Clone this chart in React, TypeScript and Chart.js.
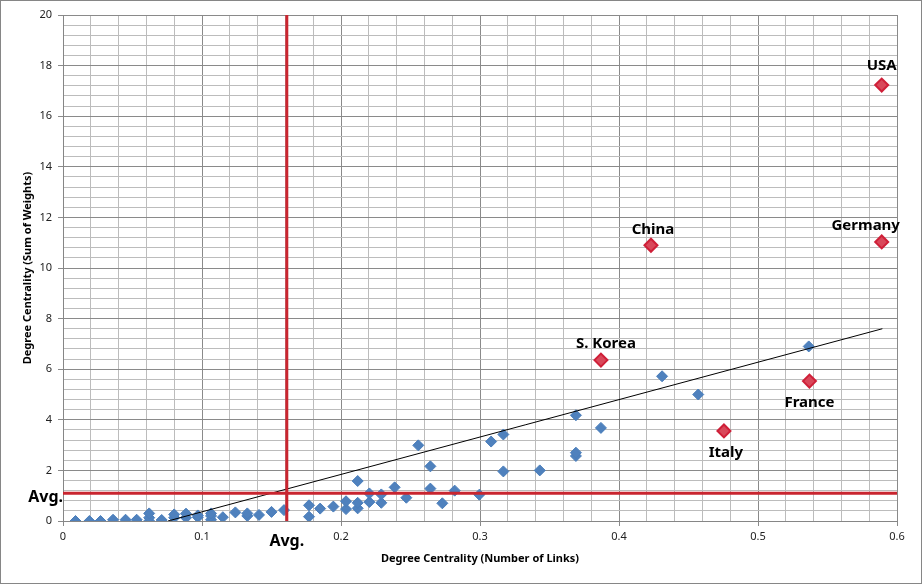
import React, { useEffect, useRef } from "react";
import { Chart, registerables } from "chart.js";

Chart.register(...registerables);

// ---- data ----
const blueX = [
  0.009, 0.019, 0.027, 0.036, 0.045, 0.053,
  0.062, 0.062, 0.062, 0.071, 0.080, 0.080,
  0.0885, 0.0885, 0.097, 0.097, 0.1065, 0.1065, 0.1065,
  0.115, 0.124, 0.1326, 0.1326, 0.141, 0.150, 0.159,
  0.177, 0.177, 0.185, 0.1945, 0.2036, 0.2036,
  0.212, 0.212, 0.212, 0.2204, 0.2204, 0.229, 0.229,
  0.2386, 0.247, 0.2556, 0.2643, 0.2643, 0.2729, 0.2818, 0.2995,
  0.308, 0.3168, 0.3168, 0.343, 0.369, 0.369, 0.369, 0.387,
  0.431, 0.457, 0.5365,
];
const blueY = [
  0, 0, 0, 0.05, 0.05, 0.05,
  0.0, 0.13, 0.3, 0.04, 0.13, 0.26,
  0.13, 0.29, 0.15, 0.22, 0.05, 0.2, 0.3,
  0.15, 0.34, 0.2, 0.3, 0.24, 0.36, 0.43,
  0.17, 0.62, 0.49, 0.57, 0.47, 0.78,
  0.5, 0.72, 1.58, 0.75, 1.09, 0.72, 1.05,
  1.33, 0.92, 2.99, 1.28, 2.16, 0.7, 1.2, 1.04,
  3.14, 1.96, 3.42, 2.0, 2.57, 2.7, 4.18, 3.68,
  5.72, 5.0, 6.9,
];

const countries = ["USA", "Germany", "China", "S. Korea", "France", "Italy"];
const countryX = [0.589, 0.589, 0.423, 0.387, 0.537, 0.4755];
const countryY = [17.23, 11.03, 10.9, 6.36, 5.53, 3.56];

const avgX = 0.161;
const avgY = 1.1;
const trendX = [0.0755, 0.5895];
const trendY = [0, 7.6];

const xTicks = ["0", "0.1", "0.2", "0.3", "0.4", "0.5", "0.6"];
const yTicks = ["0", "2", "4", "6", "8", "10", "12", "14", "16", "18", "20"];

const xTitle = "Degree Centrality (Number of Links)";
const yTitle = "Degree Centrality (Sum of Weights)";
const avgLabel = "Avg.";

// label placement (pixel offsets from marker)
const labelOffsets: [number, number][] = [
  [0, -19],
  [-16, -16],
  [2, -15],
  [5, -16],
  [0, 22],
  [2, 22],
];

const RED = "#c9252f";
const FONT = '"Noto Sans", "DejaVu Sans", sans-serif';

export default function App() {
  const ref = useRef<HTMLCanvasElement | null>(null);

  useEffect(() => {
    if (!ref.current) return;
    const blue = blueX.map((x, i) => ({ x, y: blueY[i] }));
    const red = countryX.map((x, i) => ({ x, y: countryY[i] }));

    const decor = {
      id: "decor",
      beforeDraw(chart: any) {
        const ctx = chart.ctx;
        ctx.save();
        ctx.fillStyle = "#fff";
        ctx.fillRect(0, 0, chart.width, chart.height);
        ctx.restore();
      },
      afterDraw(chart: any) {
        const ctx = chart.ctx;
        const xs = chart.scales.x;
        const ys = chart.scales.y;
        const area = chart.chartArea;
        ctx.save();
        // outer border
        ctx.strokeStyle = "#868686";
        ctx.lineWidth = 1;
        ctx.strokeRect(0.5, 0.5, chart.width - 2, chart.height - 2);
        // country labels
        ctx.fillStyle = "#000";
        ctx.font = `bold 15px ${FONT}`;
        ctx.textAlign = "center";
        ctx.textBaseline = "middle";
        countries.forEach((name, i) => {
          const px = xs.getPixelForValue(countryX[i]) + labelOffsets[i][0];
          const py = ys.getPixelForValue(countryY[i]) + labelOffsets[i][1];
          ctx.fillText(name, px, py);
        });
        // Avg labels
        ctx.font = `bold 16px ${FONT}`;
        ctx.textAlign = "right";
        ctx.fillText(avgLabel, area.left, ys.getPixelForValue(avgY) + 4);
        ctx.textAlign = "center";
        ctx.fillText(avgLabel, xs.getPixelForValue(avgX), area.bottom + 20);
        // axis titles
        ctx.font = `bold 11px ${FONT}`;
        ctx.fillText(xTitle, (area.left + area.right) / 2, area.bottom + 38);
        ctx.translate(28, (area.top + area.bottom) / 2);
        ctx.rotate(-Math.PI / 2);
        ctx.fillText(yTitle, 0, 0);
        ctx.restore();
      },
    };

    const isMajorX = (v: number) => Math.round(v * 50) % 5 === 0;
    const isMajorY = (v: number) => Math.round(v * 2.5) % 5 === 0;

    const chart = new Chart(ref.current, {
      type: "scatter",
      data: {
        datasets: [
          {
            label: "avgV",
            type: "line",
            data: [
              { x: avgX, y: 0 },
              { x: avgX, y: 20 },
            ],
            borderColor: RED,
            borderWidth: 3,
            pointRadius: 0,
            order: 1,
          },
          {
            label: "avgH",
            type: "line",
            data: [
              { x: 0, y: avgY },
              { x: 0.6, y: avgY },
            ],
            borderColor: RED,
            borderWidth: 3,
            pointRadius: 0,
            order: 1,
          },
          {
            label: "trend",
            type: "line",
            data: trendX.map((x, i) => ({ x, y: trendY[i] })),
            borderColor: "#000",
            borderWidth: 1,
            pointRadius: 0,
            order: 2,
          },
          {
            label: "countries",
            data: red,
            pointStyle: "rectRot",
            pointRadius: 6.5,
            backgroundColor: "#d9485a",
            borderColor: "#cf1f38",
            borderWidth: 2,
            order: 3,
          },
          {
            label: "others",
            data: blue,
            pointStyle: "rectRot",
            pointRadius: 5.5,
            backgroundColor: "#4f81bd",
            borderColor: "#4a7ebb",
            borderWidth: 1,
            order: 4,
          },
        ],
      },
      options: {
        animation: false,
        responsive: false,
        devicePixelRatio: 1,
        layout: { padding: { left: 0, right: 26, top: 15, bottom: 0 } },
        plugins: {
          legend: { display: false },
          tooltip: { enabled: false },
        },
        scales: {
          x: {
            type: "linear",
            min: 0,
            max: 0.6,
            afterFit(scale: any) {
              scale.height = 64;
            },
            ticks: {
              stepSize: 0.02,
              autoSkip: false,
              maxRotation: 0,
              padding: 4,
              color: "#222",
              font: { family: FONT, size: 11 },
              callback: (v: any) => {
                const n = Number(v);
                return isMajorX(n) ? xTicks[Math.round(n * 10)] : "";
              },
            },
            grid: {
              color: (c: any) => (isMajorX(c.tick.value) ? "#8a8a8a" : "#bcbcbc"),
              tickColor: (c: any) => (isMajorX(c.tick.value) ? "#8a8a8a" : "rgba(0,0,0,0)"),
              tickLength: 5,
              lineWidth: 1,
            },
            border: { display: true, color: "#868686" },
          },
          y: {
            type: "linear",
            min: 0,
            max: 20,
            afterFit(scale: any) {
              scale.width = 63;
            },
            ticks: {
              stepSize: 0.4,
              autoSkip: false,
              padding: 6,
              color: "#222",
              font: { family: FONT, size: 11 },
              callback: (v: any) => {
                const n = Number(v);
                return isMajorY(n) ? yTicks[Math.round(n / 2)] : "";
              },
            },
            grid: {
              color: (c: any) => (isMajorY(c.tick.value) ? "#8a8a8a" : "#bcbcbc"),
              tickColor: (c: any) => (isMajorY(c.tick.value) ? "#8a8a8a" : "rgba(0,0,0,0)"),
              tickLength: 5,
              lineWidth: 1,
            },
            border: { display: true, color: "#868686" },
          },
        },
      },
      plugins: [decor],
    } as any);

    return () => chart.destroy();
  }, []);

  return (
    <div style={{ position: "fixed", left: 0, top: 0, width: 923, height: 585 }}>
      <canvas ref={ref} width={923} height={585} style={{ display: "block" }} />
    </div>
  );
}
